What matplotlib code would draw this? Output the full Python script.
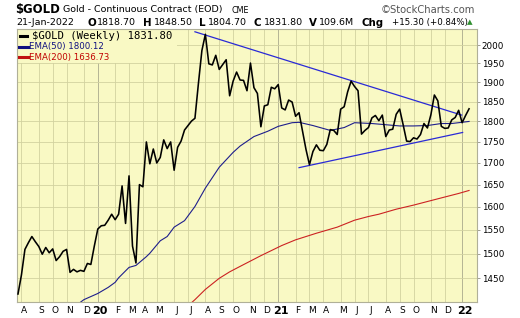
import pandas as pd
import matplotlib
matplotlib.use('Agg')
import matplotlib.pyplot as plt
from matplotlib.ticker import FixedLocator, FixedFormatter, NullLocator
from matplotlib.transforms import ScaledTranslation
from matplotlib.patches import Rectangle
from matplotlib.lines import Line2D

plt.rcParams['font.family'] = ['DejaVu Sans']

# weekly closes, 26-Jul-2019 .. 21-Jan-2022
start = '2019-07-26'
closes = [
    1419, 1457, 1509, 1523, 1536, 1525, 1515, 1499, 1513, 1502, 1510, 1486, 1494, 1505, 1509,
    1462, 1468, 1463, 1466, 1464, 1480, 1478, 1516,
    1552, 1559, 1560, 1571, 1584, 1572, 1584, 1647, 1564, 1670, 1516, 1481, 1650, 1645,
    1750, 1698, 1733, 1700, 1713, 1755, 1734, 1750, 1683, 1737, 1752, 1779, 1790, 1801,
    1808, 1897, 1985, 2030, 1949, 1946, 1972, 1934, 1947, 1960, 1865, 1903, 1927, 1906,
    1905, 1878, 1951, 1886, 1871, 1787, 1839, 1842, 1887, 1883, 1894,
    1834, 1829, 1854, 1849, 1813, 1822, 1777, 1732, 1696, 1727, 1743, 1730, 1729, 1744,
    1780, 1778, 1768, 1831, 1837, 1875, 1903, 1889, 1878, 1769, 1778, 1785, 1809, 1815,
    1802, 1816, 1763, 1779, 1781, 1818, 1831, 1792, 1752, 1751, 1760, 1757, 1768, 1795,
    1784, 1817, 1867, 1852, 1788, 1783, 1784, 1804, 1810, 1828,
    1797, 1815, 1831.8,
]
dates = pd.date_range(start, periods=len(closes), freq='W-FRI')

ema50_dates = ['2019-11-22', '2019-12-06', '2020-01-03', '2020-01-24', '2020-02-07', '2020-02-14',
               '2020-03-06', '2020-03-20', '2020-04-10', '2020-04-17', '2020-05-08', '2020-05-22',
               '2020-06-05', '2020-06-26', '2020-07-17', '2020-08-07', '2020-09-04', '2020-10-02',
               '2020-10-16', '2020-11-13', '2020-12-11', '2021-01-01', '2021-01-29', '2021-02-12',
               '2021-03-12', '2021-04-16', '2021-05-14', '2021-06-04', '2021-07-09', '2021-08-06',
               '2021-09-03', '2021-10-01', '2021-10-29', '2021-11-26', '2021-12-17', '2022-01-21']
ema50_vals = [1398, 1408, 1420, 1432, 1442, 1451,
              1472, 1476, 1494, 1501, 1527, 1536,
              1556, 1570, 1601, 1642, 1690, 1725,
              1740, 1763, 1776, 1788, 1797, 1798,
              1790, 1778, 1785, 1797, 1795, 1792,
              1789, 1789, 1790, 1795, 1795, 1800.12]

ema200_dates = ['2020-07-10', '2020-07-17', '2020-08-07', '2020-09-04', '2020-09-25', '2020-10-16',
                '2020-11-27', '2021-01-08', '2021-02-05', '2021-03-19', '2021-04-30', '2021-06-04',
                '2021-07-02', '2021-07-23', '2021-08-27', '2021-10-01', '2021-11-05', '2021-12-03',
                '2021-12-31', '2022-01-21']
ema200_vals = [1402, 1408, 1428, 1450, 1463, 1474,
               1496, 1517, 1529, 1543, 1556, 1571,
               1579, 1584, 1595, 1604, 1614, 1622,
               1630, 1636.73]

# hand drawn trendlines
trend_hi_dates = ['2020-07-17', '2022-01-06']
trend_hi_vals = [2037, 1816]
trend_lo_dates = ['2021-02-12', '2022-01-08']
trend_lo_vals = [1689, 1773]

ytick_vals = list(range(1450, 2001, 50))
month_letters = ['J', 'F', 'M', 'A', 'M', 'J', 'J', 'A', 'S', 'O', 'N', 'D']

bg = '#f9f9c4'
W, H = 520, 318
fig = plt.figure(figsize=(W / 100, H / 100), dpi=100)
ax = fig.add_axes([16.7 / W, 1 - 301.7 / H, 460 / W, 272.4 / H])
ax.set_facecolor(bg)

ax.plot(pd.to_datetime(ema200_dates), ema200_vals, color='#cc2222', lw=0.8, zorder=2)
ax.plot(pd.to_datetime(ema50_dates), ema50_vals, color='#1e1e8c', lw=0.8, zorder=2)
ax.plot(pd.to_datetime(trend_hi_dates), trend_hi_vals, color='#2a2ad6', lw=0.9, zorder=3)
ax.plot(pd.to_datetime(trend_lo_dates), trend_lo_vals, color='#2a2ad6', lw=0.9, zorder=3)
ax.plot(dates, closes, color='black', lw=1.15, zorder=4)

ax.set_yscale('log')
ax.set_ylim(1404, 2044)
ax.set_xlim(dates[0] - pd.Timedelta(days=2.6), dates[0] + pd.Timedelta(days=925.4))
ax.yaxis.tick_right()
ax.yaxis.set_major_locator(FixedLocator(ytick_vals))
ax.yaxis.set_major_formatter(FixedFormatter([str(v) for v in ytick_vals]))
ax.yaxis.set_minor_locator(NullLocator())
ax.tick_params(axis='y', length=2, width=0.6, color='#909080', pad=1.5, labelsize=6.3)

# month gridlines sit on the first weekly bar of each month
s = pd.Series(dates)
firsts = s.groupby([s.dt.year, s.dt.month]).first().tolist()[1:]
labels = []
for d in firsts:
    labels.append(d.strftime('%y') if d.month == 1 else month_letters[d.month - 1])
ax.set_xticks(firsts)
ax.set_xticklabels(labels)
ax.xaxis.set_minor_locator(NullLocator())
ax.tick_params(axis='x', length=0, pad=3, labelsize=6.5)
for d, lab in zip(firsts, ax.get_xticklabels()):
    lab.set_transform(lab.get_transform() + ScaledTranslation(2.5 / 100, 0, fig.dpi_scale_trans))
    if d.month == 1:
        lab.set_fontweight('bold')
        lab.set_fontsize(8)

ax.set_axisbelow(True)
ax.grid(True, color='#d2d2a0', lw=0.6)
for d, gl in zip(firsts, ax.xaxis.get_gridlines()):
    if d.month == 1:
        gl.set_color('#a9a98c')

for sp in ax.spines.values():
    sp.set_color('#b0b098')
    sp.set_linewidth(0.8)

# legend block
ax.add_patch(Rectangle((0.001, 1 - 34 / 272.4), 160 / 460, 34 / 272.4, transform=ax.transAxes,
                       facecolor=bg, edgecolor='none', zorder=1.5))


def px(x, y):
    return x / W, 1 - y / H


for (x0, x1, y, c) in [(20, 27.3, 35.7, 'black'), (19.3, 28.3, 46.7, '#101080'), (19.3, 28.3, 57.3, '#c01010')]:
    fig.add_artist(Line2D([x0 / W, x1 / W], [1 - y / H, 1 - y / H], color=c, lw=2.2,
                          transform=fig.transFigure))
fig.text(*px(31.5, 35.7), '$GOLD (Weekly) 1831.80', family='DejaVu Sans Mono', fontsize=7.7,
         va='center', color='black')
fig.text(*px(29.3, 46.7), 'EMA(50) 1800.12', fontsize=6.2, va='center', color='#101080')
fig.text(*px(29.3, 57.3), 'EMA(200) 1636.73', fontsize=6.2, va='center', color='#c00000')

# header
fig.text(*px(15.5, 9.5), '$GOLD', fontsize=8.4, fontweight='bold', va='center')
fig.text(*px(63.3, 9.8), 'Gold - Continuous Contract (EOD)', fontsize=6.8, va='center')
fig.text(*px(231.5, 10.3), 'CME', fontsize=5.8, va='center')
fig.text(*px(475.5, 9.8), '\u00a9StockCharts.com', fontsize=7.2, va='center', ha='right',
         color='#555555')

line2 = [(16, '21-Jan-2022', 'normal'), (87.3, 'O', 'bold'), (96.5, '1818.70', 'normal'),
         (143.3, 'H', 'bold'), (154, '1848.50', 'normal'), (199.3, 'L', 'bold'),
         (208.3, '1804.70', 'normal'), (253.3, 'C', 'bold'), (264, '1831.80', 'normal'),
         (309.3, 'V', 'bold'), (319.3, '109.6M', 'normal'), (361.7, 'Chg', 'bold'),
         (391.7, '+15.30 (+0.84%)', 'normal')]
for x, t, w in line2:
    fs = 7.4 if w == 'bold' else 6.8
    if t.startswith('+'):
        fs = 6.2
    fig.text(*px(x, 22.8), t, fontsize=fs, fontweight=w, va='center')
fig.text(*px(467, 22.3), '\u25b2', fontsize=5.2, va='center', color='#2f8f2f')

fig.savefig('out.png', dpi=100, facecolor='white')
